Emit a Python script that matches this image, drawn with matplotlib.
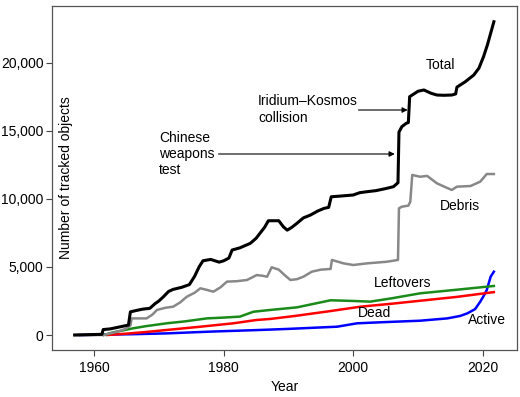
import matplotlib
matplotlib.use("Agg")
import matplotlib.pyplot as plt
from matplotlib.ticker import FuncFormatter

plt.rcParams['font.family'] = ['Liberation Sans', 'DejaVu Sans']

# values (year, number of tracked objects)
total_years = [1957.0, 1961.2, 1961.4, 1962.5, 1963.5, 1964.5, 1965.3, 1965.6, 1966.5, 1967.5,
               1968.6, 1969.4, 1970.0, 1970.7, 1971.5, 1972.2, 1973.5, 1974.7, 1975.5, 1976.2,
               1976.8, 1978.0, 1979.3, 1980.0, 1980.8, 1981.3, 1982.5, 1984.1, 1985.0, 1985.6,
               1986.3, 1986.9, 1988.5, 1989.2, 1989.8, 1990.5, 1991.3, 1992.3, 1993.4, 1994.5,
               1995.5, 1996.2, 1996.6, 1998.0, 2000.0, 2001.0, 2002.1, 2003.5, 2005.0, 2006.2,
               2006.9, 2007.05, 2007.5, 2008.2, 2008.5, 2008.7, 2009.1, 2010.0, 2010.9, 2012.0,
               2012.9, 2014.0, 2015.2, 2015.8, 2016.0, 2017.3, 2018.6, 2019.4, 2020.1, 2020.7,
               2021.2, 2021.7]
total_vals = [0, 50, 400, 450, 550, 650, 730, 1700, 1800, 1900,
              1960, 2300, 2500, 2810, 3200, 3350, 3500, 3700, 4300, 5000,
              5450, 5550, 5350, 5450, 5650, 6240, 6400, 6730, 7100, 7470,
              7900, 8390, 8390, 7950, 7700, 7900, 8200, 8600, 8810, 9100,
              9300, 9370, 10150, 10200, 10280, 10450, 10520, 10600, 10750, 10890,
              11180, 14900, 15300, 15550, 15600, 17500, 17620, 17900, 17990, 17750,
              17620, 17600, 17620, 17700, 18200, 18600, 19090, 19600, 20430, 21300,
              22150, 23000]

debris_years = [1957.0, 1961.5, 1962.5, 1964.0, 1965.0, 1965.6, 1965.8, 1968.1, 1969.0, 1969.7,
                1971.0, 1972.2, 1973.3, 1974.3, 1975.5, 1976.4, 1977.5, 1978.4, 1979.5, 1980.5,
                1982.0, 1983.6, 1985.1, 1986.0, 1986.7, 1987.4, 1988.5, 1989.4, 1990.3, 1991.3,
                1992.3, 1993.6, 1995.0, 1996.5, 1996.7, 1998.5, 2000.0, 2002.1, 2005.2, 2006.9,
                2007.05, 2007.5, 2008.5, 2008.8, 2009.1, 2010.3, 2011.4, 2012.9, 2014.0, 2015.2,
                2016.0, 2018.1, 2019.6, 2020.6, 2021.7]
debris_vals = [0, 0, 120, 300, 490, 700, 1220, 1220, 1500, 1840,
               2000, 2080, 2400, 2810, 3100, 3430, 3300, 3180, 3500, 3920,
               3950, 4040, 4400, 4350, 4280, 4970, 4800, 4400, 4040, 4100,
               4280, 4650, 4800, 4850, 5510, 5260, 5140, 5260, 5380, 5510,
               9300, 9420, 9500, 9790, 11750, 11620, 11680, 11140, 10900, 10650,
               10890, 10940, 11260, 11820, 11820]

leftover_years = [1961.5, 1963.0, 1966.0, 1968.0, 1971.2, 1974.0, 1977.4, 1980.0, 1982.5, 1984.6,
                  1987.2, 1991.3, 1994.0, 1996.5, 2000.0, 2002.6, 2006.0, 2010.3, 2016.5, 2021.7]
leftover_vals = [0, 200, 490, 650, 860, 1000, 1220, 1280, 1350, 1710,
                 1840, 2030, 2300, 2550, 2500, 2450, 2700, 3060, 3350, 3600]

dead_years = [1962.0, 1965.0, 1968.0, 1971.2, 1976.4, 1981.5, 1985.0, 1987.2, 1991.0, 1996.5,
              2001.1, 2006.0, 2011.4, 2016.0, 2021.7]
dead_vals = [0, 100, 220, 370, 610, 860, 1100, 1180, 1400, 1760,
             2080, 2300, 2570, 2800, 3150]

active_years = [1957.8, 1962.0, 1966.0, 1971.2, 1978.0, 1985.6, 1990.0, 1997.5, 2000.6, 2005.0,
                2010.3, 2014.5, 2016.5, 2017.6, 2018.8, 2019.6, 2020.1, 2020.6, 2021.2, 2021.7]
active_vals = [0, 30, 60, 120, 250, 370, 450, 610, 860, 950,
               1050, 1220, 1400, 1590, 1900, 2450, 2850, 3300, 4280, 4650]

fig = plt.figure(figsize=(5.2, 3.97), dpi=100)
ax = fig.add_axes([0.1, 0.1184, 0.894, 0.8665])

ax.plot(active_years, active_vals, color='#0000ff', lw=1.8, zorder=3)
ax.plot(dead_years, dead_vals, color='#ff0000', lw=1.8, zorder=3)
ax.plot(leftover_years, leftover_vals, color='#1a8a1a', lw=1.8, zorder=3)
ax.plot(debris_years, debris_vals, color='#888888', lw=1.8, zorder=3)
ax.plot(total_years, total_vals, color='black', lw=2.2, zorder=4)

ax.set_xlim(1953.5, 2025.25)
ax.set_ylim(-1100, 24156)
ax.set_xticks([1960, 1980, 2000, 2020])
ax.set_yticks([0, 5000, 10000, 15000, 20000])
ax.yaxis.set_major_formatter(FuncFormatter(lambda v, p: f'{int(v):,}'))
ax.tick_params(labelsize=10, length=4, width=0.8, color='#444444')
ax.tick_params(axis='x', pad=4)
ax.tick_params(axis='y', pad=2)
for s in ax.spines.values():
    s.set_color('#555555')
    s.set_linewidth(0.9)

ax.set_xlabel('Year', fontsize=10)
ax.xaxis.set_label_coords(0.5, -0.088)
ax.set_ylabel('Number of tracked objects', fontsize=10)
ax.yaxis.set_label_coords(0.045, 0.5)

# series labels
ax.text(2013.4, 19820, 'Total', fontsize=10, ha='center', va='center')
ax.text(2016.4, 9470, 'Debris', fontsize=10, ha='center', va='center')
ax.text(2007.6, 3820, 'Leftovers', fontsize=10, ha='center', va='center')
ax.text(2003.2, 1620, 'Dead', fontsize=10, ha='center', va='center')
ax.text(2020.6, 1100, 'Active', fontsize=10, ha='center', va='center')

# events
ax.text(1970.0, 13290, 'Chinese\nweapons\ntest', fontsize=10, ha='left', va='center')
ax.annotate('', xy=(2006.4, 13290), xytext=(1979.2, 13290),
            arrowprops=dict(arrowstyle='-|>', lw=0.8, color='black', mutation_scale=8,
                            shrinkA=0, shrinkB=0))
ax.text(1985.3, 16560, 'Iridium\u2013Kosmos\ncollision', fontsize=10, ha='left', va='center')
ax.annotate('', xy=(2008.4, 16520), xytext=(2000.8, 16520),
            arrowprops=dict(arrowstyle='-|>', lw=0.8, color='black', mutation_scale=8,
                            shrinkA=0, shrinkB=0))

plt.savefig('out.png', dpi=100)
